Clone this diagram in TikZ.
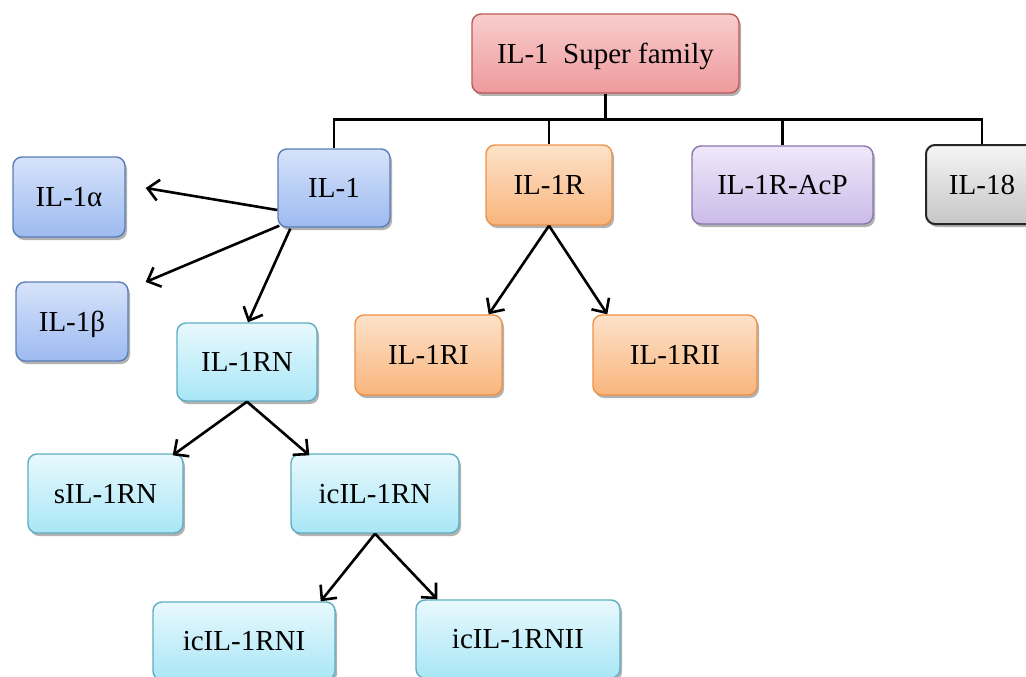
\documentclass[tikz,border=0pt]{standalone}
\usepackage{fontspec}
\setmainfont{Liberation Serif}
\usetikzlibrary{arrows.meta,calc,shadows}
\definecolor{sfTop}{HTML}{F9CDCD}
\definecolor{sfBot}{HTML}{EE9A9C}
\definecolor{sfDraw}{HTML}{BE5A58}
\definecolor{blTop}{HTML}{D6E3FA}
\definecolor{blBot}{HTML}{9DBAF0}
\definecolor{blDraw}{HTML}{5B7DB6}
\definecolor{orTop}{HTML}{FDE2CA}
\definecolor{orBot}{HTML}{F9B57C}
\definecolor{orDraw}{HTML}{EE9248}
\definecolor{puTop}{HTML}{EFE8F9}
\definecolor{puBot}{HTML}{CBBBE9}
\definecolor{puDraw}{HTML}{8A76AC}
\definecolor{grTop}{HTML}{F5F5F5}
\definecolor{grBot}{HTML}{C6C6C6}
\definecolor{cyTop}{HTML}{E8F9FD}
\definecolor{cyBot}{HTML}{A9E6F6}
\definecolor{cyDraw}{HTML}{5EADC2}
\tikzset{
  box/.style={rectangle, rounded corners=9pt, inner sep=0pt, line width=1.4pt,
    font=\fontsize{29}{33}\selectfont, text height=19.5pt, text depth=0pt,
    drop shadow={shadow xshift=2pt, shadow yshift=-3pt, opacity=0.3, fill=black}},
  redbox/.style={box, draw=sfDraw, top color=sfTop, bottom color=sfBot},
  bluebox/.style={box, draw=blDraw, top color=blTop, bottom color=blBot},
  orbox/.style={box, draw=orDraw, top color=orTop, bottom color=orBot},
  pubox/.style={box, draw=puDraw, top color=puTop, bottom color=puBot},
  grbox/.style={box, draw=black!85, line width=2pt, top color=grTop, bottom color=grBot},
  cybox/.style={box, draw=cyDraw, top color=cyTop, bottom color=cyBot},
  tree/.style={line width=2.4pt, black},
  arr/.style={line width=2.6pt, black, -{Straight Barb[length=11pt,width=21pt,line width=2.6pt]}}
}
\begin{document}
\begin{tikzpicture}[x=1pt,y=-1pt]
\useasboundingbox (0,0) rectangle (1026,677);
\begin{scope}
\clip (0,0) rectangle (1026,677);
\node[redbox, minimum width=267pt, minimum height=79pt] (sf) at (605.5,53.5) {IL-1\ \ Super family};
\node[bluebox, minimum width=112pt, minimum height=78pt] (il1) at (334,188) {IL-1};
\node[orbox, minimum width=126pt, minimum height=80pt] (il1r) at (549,185) {IL-1R};
\node[pubox, minimum width=181pt, minimum height=78pt] (acp) at (782.5,185) {IL-1R-AcP};
\node[grbox, minimum width=112pt, minimum height=79pt] (il18) at (982,184.5) {IL-18};
\node[bluebox, minimum width=112pt, minimum height=80pt] (il1a) at (69,197) {IL-1α};
\node[bluebox, minimum width=112pt, minimum height=79pt] (il1b) at (72,321.5) {IL-1β};
\node[cybox, minimum width=140pt, minimum height=78pt] (il1rn) at (247,362) {IL-1RN};
\node[orbox, minimum width=147pt, minimum height=80pt] (il1ri) at (428.5,355) {IL-1RI};
\node[orbox, minimum width=164pt, minimum height=80pt] (il1rii) at (675,355) {IL-1RII};
\node[cybox, minimum width=155pt, minimum height=79pt] (sil) at (105.5,493.5) {sIL-1RN};
\node[cybox, minimum width=168pt, minimum height=79pt] (icil) at (375,493.5) {icIL-1RN};
\node[cybox, minimum width=182pt, minimum height=78pt] (ic1) at (244,641) {icIL-1RNI};
\node[cybox, minimum width=204pt, minimum height=78pt] (ic2) at (518,639) {icIL-1RNII};
\end{scope}
% tree connectors
\coordinate (bar) at (0,119.5);
\draw[tree] (sf.south) -- (sf.south |- bar);
\draw[tree] (il1.north) -- (il1.north |- bar) -- (il18.north |- bar) -- (il18.north);
\draw[tree] (il1r.north) -- (il1r.north |- bar);
\draw[tree] (acp.north) -- (acp.north |- bar);
% arrows
\coordinate (ta) at ($(il1a.east)+(20,-9)$);
\coordinate (tb) at ($(il1b.east)+(17,-39.5)$);
\draw[arr] ($(il1.west)+(0,22)$) -- (ta);
\draw[arr] ($(il1.south west)+(2,-2)$) -- (tb);
\draw[arr] ($(il1.south west)+(13,1)$) -- ($(il1rn.north)+(1,0)$);
\draw[arr] (il1r.south) -- ($(il1ri.north east)+(-14,0)$);
\draw[arr] (il1r.south) -- ($(il1rii.north west)+(15,0)$);
\draw[arr] (il1rn.south) -- ($(sil.north east)+(-11,2)$);
\draw[arr] (il1rn.south) -- ($(icil.north west)+(19,2)$);
\draw[arr] (icil.south) -- ($(ic1.north east)+(-15,0)$);
\draw[arr] (icil.south) -- ($(ic2.north west)+(22,0)$);
\end{tikzpicture}
\end{document}
